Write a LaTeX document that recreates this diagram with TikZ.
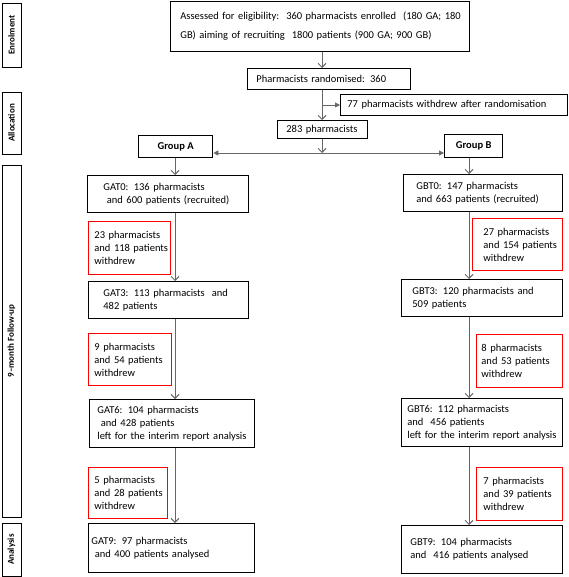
\documentclass[tikz,border=0pt]{standalone}
\usepackage{fontspec}
\setmainfont{Carlito}
\usetikzlibrary{arrows.meta}
\newcommand\tl[1]{\mbox{#1}}
\begin{document}
\begin{tikzpicture}[x=1pt,y=-1pt,
  font=\fontsize{10.5}{13}\selectfont,
  box/.style={draw=black,line width=0.8pt,anchor=north west,align=left,inner ysep=0pt},
  rbox/.style={box,draw=red,line width=0.9pt},
  gbox/.style={draw=black,line width=1.3pt,anchor=north west,inner sep=0pt,font=\fontsize{10.5}{13}\selectfont\bfseries},
  side/.style={draw=black,line width=0.9pt,rotate=90,inner sep=0pt,minimum height=19pt,font=\fontsize{9}{11}\selectfont\bfseries},
  arr/.style={draw=black!60,line width=0.9pt,-{Straight Barb[length=4pt,width=8pt]}},
  farr/.style={draw=black!60,line width=0.9pt,-{Triangle[length=5pt,width=5pt]}}
]
\useasboundingbox (0,0) rectangle (568,577);
% side labels
\node[side,minimum width=64pt] (senr) at (11.5,35) {Enrolment};
\node[side,minimum width=62pt] (sall) at (11.5,123) {Allocation};
\node[side,minimum width=352pt] (sfol) at (11.5,341) {9--month Follow-up};
\node[side,minimum width=53pt] (sana) at (11.5,549.5) {Analysis};
% top
\node[box,inner xsep=10pt,text width=279pt,minimum height=50pt,font=\fontsize{10.5}{19}\selectfont] (top) at (170,1)
  {\tl{Assessed for eligibility:\ \ 360 pharmacists enrolled\ \ (180 GA; 180}\\\tl{GB) aiming of recruiting\ \ 1800 patients (900 GA; 900 GB)}};
\node[box,inner xsep=9pt,text width=145pt,minimum height=21pt] (rand) at (247,68) {\tl{Pharmacists randomised: 360}};
\node[box,inner xsep=7pt,text width=213pt,minimum height=21pt] (w77) at (340,94) {\tl{77 pharmacists withdrew after randomisation}};
\node[box,inner xsep=9pt,text width=72pt,minimum height=18pt] (p283) at (277,120) {\tl{283 pharmacists}};
\node[gbox,minimum width=74pt,minimum height=22pt] (GA) at (138,135) {Group A};
\node[gbox,minimum width=58pt,minimum height=23pt] (GB) at (444,134) {Group B};
% group A
\node[box,inner xsep=16pt,text width=129pt,minimum height=37pt] (GAT0) at (87,175)
  {\tl{GAT0: 136 pharmacists}\\\tl{\ and 600 patients (recruited)}};
\node[rbox,inner xsep=6pt,text width=70pt,minimum height=53pt] (RA1) at (88,221)
  {\tl{23 pharmacists}\\\tl{and 118 patients}\\\tl{withdrew}};
\node[box,inner xsep=15pt,text width=130pt,minimum height=37pt] (GAT3) at (88,281)
  {\tl{GAT3: 113 pharmacists\ \ and}\\\tl{482 patients}};
\node[rbox,inner xsep=6pt,text width=71pt,minimum height=52pt] (RA2) at (88,333)
  {\tl{9 pharmacists}\\\tl{and 54 patients}\\\tl{withdrew}};
\node[box,inner xsep=8pt,text width=149pt,minimum height=48pt] (GAT6) at (89,399)
  {\tl{GAT6: 104 pharmacists}\\\tl{\ and 428 patients}\\\tl{left for the interim report analysis}};
\node[rbox,inner xsep=6pt,text width=67pt,minimum height=51pt] (RA3) at (88,467)
  {\tl{5 pharmacists}\\\tl{and 28 patients}\\\tl{withdrew}};
\node[box,inner xsep=3pt,text width=160pt,minimum height=49pt] (GAT9) at (88,523)
  {\tl{GAT9: 97 pharmacists}\\\tl{\ and 400 patients analysed}};
% group B
\node[box,inner xsep=13pt,text width=133pt,minimum height=37pt] (GBT0) at (403,174)
  {\tl{GBT0: 147 pharmacists}\\\tl{and 663 patients (recruited)}};
\node[rbox,inner xsep=11pt,text width=68pt,minimum height=52pt] (RB1) at (472,218)
  {\tl{27 pharmacists}\\\tl{and 154 patients}\\\tl{withdrew}};
\node[box,inner xsep=11pt,text width=139pt,minimum height=37pt] (GBT3) at (401,279)
  {\tl{GBT3: 120 pharmacists and}\\\tl{509 patients}};
\node[rbox,inner xsep=5pt,text width=76pt,minimum height=53pt] (RB2) at (476,334)
  {\tl{8 pharmacists}\\\tl{and 53 patients}\\\tl{withdrew}};
\node[box,inner xsep=6pt,text width=149pt,minimum height=48pt] (GBT6) at (401,398)
  {\tl{GBT6: 112 pharmacists}\\\tl{and\ \ 456 patients}\\\tl{left for the interim report analysis}};
\node[rbox,inner xsep=7pt,text width=72pt,minimum height=53pt] (RB3) at (476,467)
  {\tl{7 pharmacists}\\\tl{and 39 patients}\\\tl{withdrew}};
\node[box,inner xsep=9pt,text width=143pt,minimum height=48pt] (GBT9) at (401,525)
  {\tl{GBT9: 104 pharmacists}\\\tl{and\ \ 416 patients analysed}};
% coordinates
\coordinate (cx) at (322,0);
\coordinate (br) at (322,105);
\coordinate (hl) at (322,153);
\coordinate (ga) at (175,0);
\coordinate (gb) at (469,0);
% connectors
\draw[arr] (top.south -| cx) -- (rand.north -| cx);
\draw[arr] (rand.south -| cx) -- (p283.north -| cx);
\draw[farr] (br) -- (w77.west |- br);
\draw[arr] (p283.south -| cx) -- (hl);
\draw[farr] (hl) -- (GA.east |- hl);
\draw[farr] (hl) -- (GB.west |- hl);
\draw[arr] (GA.south -| ga) -- (GAT0.north -| ga);
\draw[arr] (GAT0.south -| ga) -- (GAT3.north -| ga);
\draw[arr] (GAT3.south -| ga) -- (GAT6.north -| ga);
\draw[arr] (GAT6.south -| ga) -- (GAT9.north -| ga);
\draw[arr] (GB.south -| gb) -- (GBT0.north -| gb);
\draw[arr] (GBT0.south -| gb) -- (GBT3.north -| gb);
\draw[arr] (GBT3.south -| gb) -- (GBT6.north -| gb);
\draw[arr] (GBT6.south -| gb) -- (GBT9.north -| gb);
\end{tikzpicture}
\end{document}
